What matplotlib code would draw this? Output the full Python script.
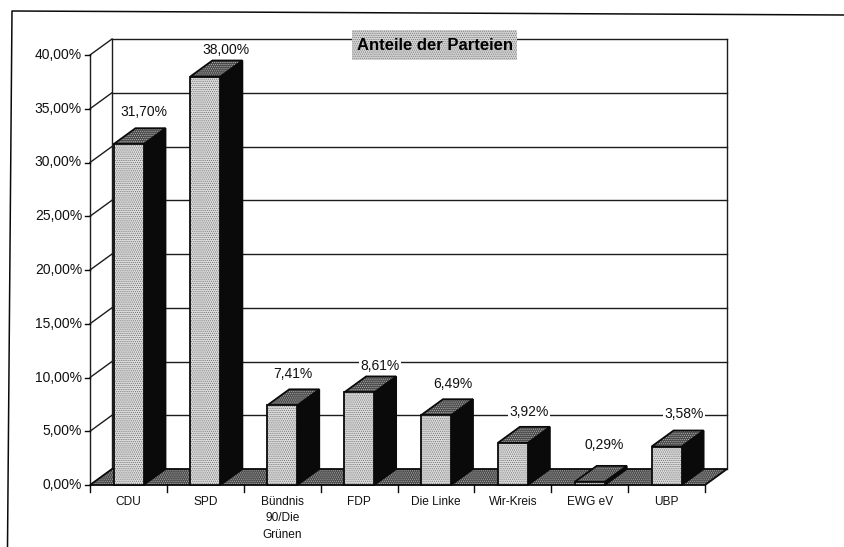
import matplotlib
matplotlib.use('Agg')
import matplotlib.pyplot as plt
from matplotlib.patches import Polygon, Rectangle

categories = ['CDU', 'SPD', 'Bündnis\n90/Die\nGrünen', 'FDP', 'Die Linke', 'Wir-Kreis', 'EWG eV', 'UBP']
values = [31.70, 38.00, 7.41, 8.61, 6.49, 3.92, 0.29, 3.58]
value_labels = ['31,70%', '38,00%', '7,41%', '8,61%', '6,49%', '3,92%', '0,29%', '3,58%']
y_ticks = [0, 5, 10, 15, 20, 25, 30, 35, 40]
y_tick_labels = ['0,00%', '5,00%', '10,00%', '15,00%', '20,00%', '25,00%', '30,00%', '35,00%', '40,00%']
title = 'Anteile der Parteien'

# label placement relative to each bar (pixels)
label_dx = [30, 36, 26, 36, 32, 31, 29, 32]
label_dy = [16, 10, 15, 10, 15, 15, 21, 17]

plt.rcParams['font.family'] = ['Liberation Sans', 'DejaVu Sans']
plt.rcParams['hatch.linewidth'] = 0.5

W, H = 844, 547
fig = plt.figure(figsize=(W / 100, H / 100), dpi=100, facecolor='white')
L, R, T, B = 90, 705, 55, 485
ax = fig.add_axes([L / W, 1 - B / H, (R - L) / W, (B - T) / H])
n = len(categories)
ax.set_xlim(0, n)
ax.set_ylim(0, 40)
ax.axis('off')

px = n / (R - L)
py = 40 / (B - T)
DX, DY = 22 * px, 16 * py
BW = 30 * px
BO = 23.5 * px
K = '#0a0a0a'
G = '#1c1c1c'
DOTS = '........'


def poly(pts, fc, ec=K, lw=1.3, hatch=None, z=2):
    if hatch:
        ax.add_patch(Polygon(pts, closed=True, facecolor=fc, edgecolor=hatch[1], hatch=hatch[0],
                             linewidth=0, zorder=z, clip_on=False))
        ax.add_patch(Polygon(pts, closed=True, fill=False, edgecolor=ec, linewidth=lw, zorder=z,
                             clip_on=False))
    else:
        ax.add_patch(Polygon(pts, closed=True, facecolor=fc, edgecolor=ec, linewidth=lw, zorder=z,
                             clip_on=False))


# walls and gridlines
for yt in y_ticks[1:]:
    ax.plot([DX, n + DX], [yt + DY, yt + DY], color=G, lw=1.0, zorder=1, clip_on=False)
    ax.plot([0, DX], [yt, yt + DY], color=G, lw=1.0, zorder=1, clip_on=False)
ax.plot([0, 0], [0, 40], color=G, lw=1.0, zorder=1, clip_on=False)
ax.plot([DX, DX], [DY, 40 + DY], color=G, lw=1.0, zorder=1, clip_on=False)
ax.plot([n + DX, n + DX], [DY, 40 + DY], color=G, lw=1.0, zorder=1, clip_on=False)

# floor
poly([(0, 0), (n, 0), (n + DX, DY), (DX, DY)], '#4a4a4a', hatch=(DOTS, '#b8b8b8'), z=1.5)

# ticks
for yt, lab in zip(y_ticks, y_tick_labels):
    ax.plot([-5 * px, 0], [yt, yt], color=K, lw=1.0, clip_on=False)
    ax.text(-8 * px, yt, lab, ha='right', va='center', fontsize=10, color='#111111')
for i in range(n + 1):
    ax.plot([i, i], [0, -7 * py], color=K, lw=1.0, clip_on=False)
for i, c in enumerate(categories):
    ax.text(i + 0.5, -11 * py, c, ha='center', va='top', fontsize=8.6, color='#111111', linespacing=1.48)

# bars
for i, (v, lab) in enumerate(zip(values, value_labels)):
    x0 = i + BO
    x1 = x0 + BW
    poly([(x1, 0), (x1 + DX, DY), (x1 + DX, v + DY), (x1, v)], K, z=3)
    poly([(x0, v), (x1, v), (x1 + DX, v + DY), (x0 + DX, v + DY)], '#4a4a4a', hatch=(DOTS, '#b8b8b8'), z=3)
    poly([(x0, 0), (x1, 0), (x1, v), (x0, v)], '#dcdcdc', hatch=(DOTS, '#6e6e6e'), z=3)
    ax.text(x0 + label_dx[i] * px, v + DY + label_dy[i] * py, lab, ha='center', va='center', fontsize=10,
            color='#111111', zorder=5, bbox=dict(facecolor='white', edgecolor='none', pad=1.0))

# chart frame: top and left edges only
fig.add_artist(plt.Line2D([7.5 / W, 12 / W, 844 / W], [1 - 547 / H, 1 - 11 / H, 1 - 15 / H], color=K, lw=1.1))

# title
fig.add_artist(Rectangle((352 / W, 1 - 60 / H), 165 / W, 30 / H, transform=fig.transFigure, facecolor='#d4d4d4',
                         edgecolor='#777777', hatch=DOTS, linewidth=0, zorder=6))
fig.text(435 / W, 1 - 45.5 / H, title, ha='center', va='center', fontsize=12, fontweight='bold', color='black',
         zorder=7)

fig.savefig('out.png', dpi=100)
